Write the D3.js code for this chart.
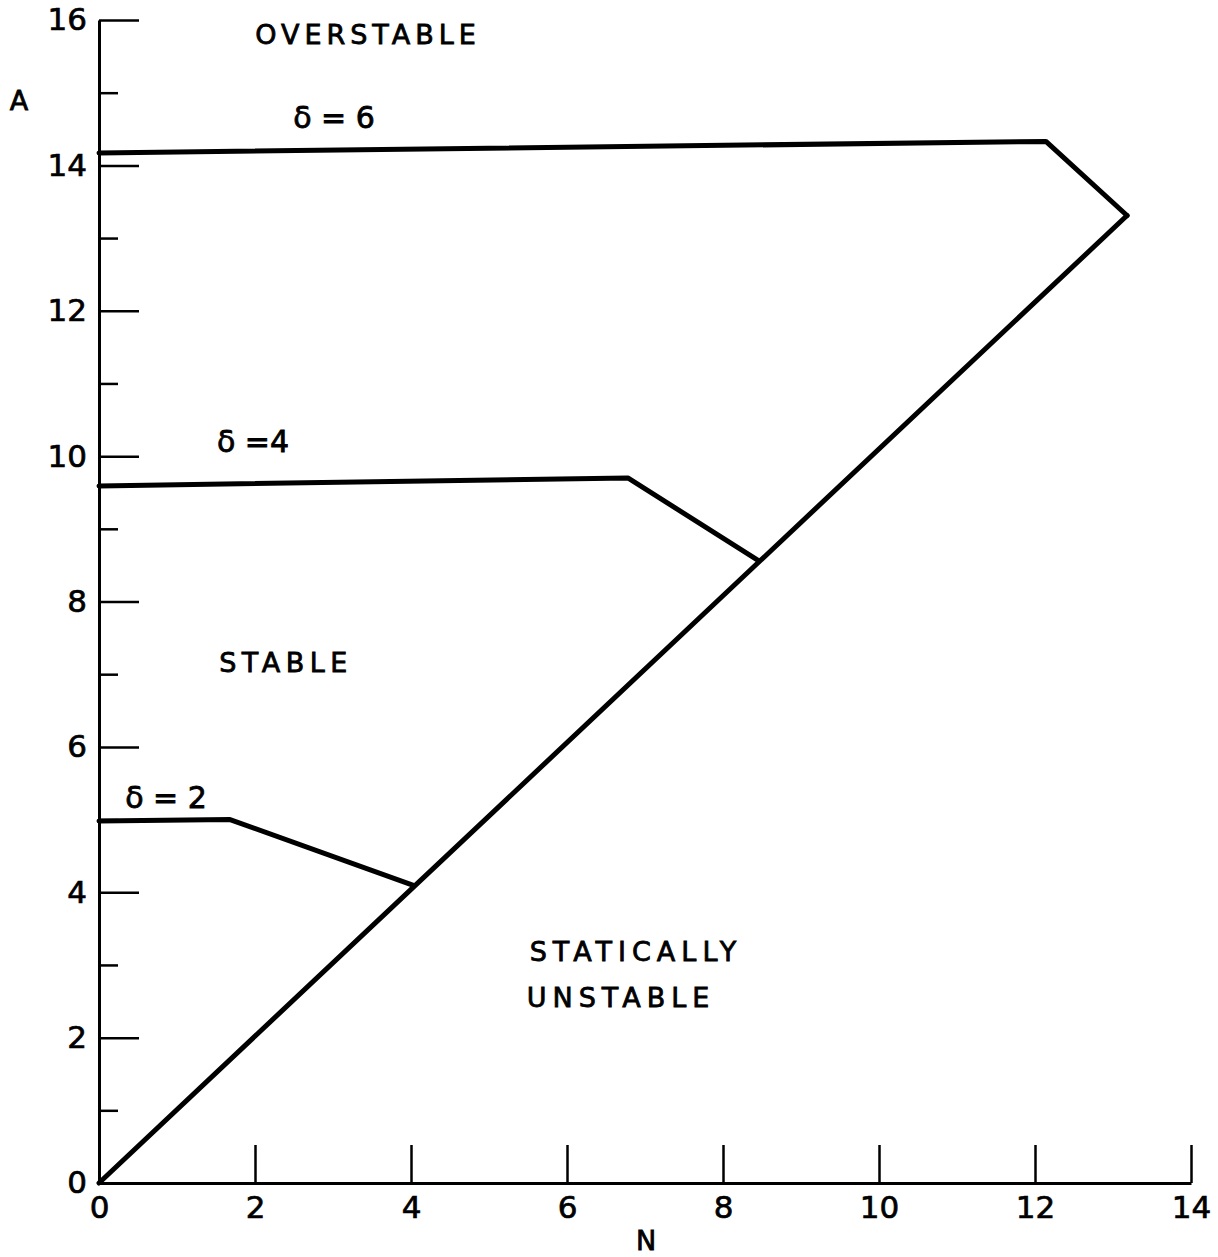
<!DOCTYPE html>
<html><head><meta charset="utf-8">
<script src="https://cdn.jsdelivr.net/npm/d3@7"></script>
<style>body{margin:0;background:#fff}svg{display:block}</style>
</head><body>
<script>
// Data
const xTicks = [2, 4, 6, 8, 10, 12, 14];
const xTickLabels = ["2", "4", "6", "8", "10", "12", "14"];
const yMajorTicks = [0, 2, 4, 6, 8, 10, 12, 14, 16];
const yMinorTicks = [1, 3, 5, 7, 9, 11, 13, 15];
const diagN = [0, 13.18];
const diagA = [0, 13.31];
const d6N = [0, 12.14, 13.18];
const d6A = [14.17, 14.33, 13.31];
const d4N = [0, 6.78, 8.46];
const d4A = [9.59, 9.70, 8.56];
const d2N = [0, 1.68, 4.04];
const d2A = [4.98, 5.0, 4.09];

const W = 1218, H = 1257;
const svg = d3.select("body").append("svg").attr("width", W).attr("height", H);
const x = d3.scaleLinear().domain([0, 14]).range([99, 1191]);
const y = d3.scaleLinear().domain([0, 16]).range([1183, 20]);
const font = "'DejaVu Sans', sans-serif";

// Y axis major
const yAx = svg.append("g").attr("transform", `translate(${x(0)},0)`)
  .call(d3.axisLeft(y).tickValues(yMajorTicks).tickSizeInner(-40).tickSizeOuter(0).tickPadding(12).tickFormat(d3.format("d")));
yAx.select(".domain").attr("stroke-width", 3).attr("stroke", "#000");
yAx.selectAll(".tick line").attr("stroke-width", 2.5).attr("stroke", "#000");
yAx.selectAll(".tick text").attr("font-family", font).attr("font-size", 31).attr("fill", "#000")
  .attr("stroke", "#000").attr("stroke-width", 0.7);
yAx.selectAll(".tick").filter(d => d === 0).select("line").remove();
// Y minor
const yMin = svg.append("g").attr("transform", `translate(${x(0)},0)`)
  .call(d3.axisLeft(y).tickValues(yMinorTicks).tickSizeInner(-19).tickSizeOuter(0).tickFormat(""));
yMin.select(".domain").remove();
yMin.selectAll(".tick line").attr("stroke-width", 2.5).attr("stroke", "#000");

// X axis
const xAx = svg.append("g").attr("transform", `translate(0,${y(0)})`)
  .call(d3.axisBottom(x).tickValues([0].concat(xTicks)).tickSizeInner(-38).tickSizeOuter(0).tickPadding(13)
    .tickFormat((d) => d === 0 ? "0" : xTickLabels[xTicks.indexOf(d)]));
xAx.select(".domain").attr("stroke-width", 3).attr("stroke", "#000");
xAx.selectAll(".tick line").attr("stroke-width", 2.5).attr("stroke", "#000");
xAx.selectAll(".tick").filter(d => d === 0).select("line").remove();
xAx.selectAll(".tick text").attr("font-family", font).attr("font-size", 31).attr("fill", "#000")
  .attr("stroke", "#000").attr("stroke-width", 0.7);

// Lines
const line = d3.line().x(d => x(d[0])).y(d => y(d[1]));
const series = [[diagN, diagA], [d6N, d6A], [d4N, d4A], [d2N, d2A]];
series.forEach(([ns, as]) => {
  svg.append("path").datum(ns.map((n, i) => [n, as[i]]))
    .attr("d", line).attr("fill", "none").attr("stroke", "#000")
    .attr("stroke-width", 5).attr("stroke-linejoin", "round").attr("stroke-linecap", "round");
});

// Labels
const labels = [
  ["OVERSTABLE", 368, 44, 27, 5],
  ["δ = 6", 334, 128, 30, 0],
  ["δ =4", 253, 452, 30, 0],
  ["STABLE", 286, 672, 27, 5.5],
  ["δ = 2", 166, 808, 30, 0],
  ["STATICALLY", 636, 961, 27, 6],
  ["UNSTABLE", 621, 1007, 27, 6],
  ["A", 19, 110, 27, 0],
  ["N", 646, 1250, 27, 0]
];
labels.forEach(([t, lx, ly, fs, ls]) => {
  svg.append("text").attr("x", lx).attr("y", ly).attr("text-anchor", "middle")
    .attr("font-family", font).attr("font-size", fs).attr("letter-spacing", ls).attr("fill", "#000")
    .attr("stroke", "#000").attr("stroke-width", 0.8).text(t);
});
</script>
</body></html>
